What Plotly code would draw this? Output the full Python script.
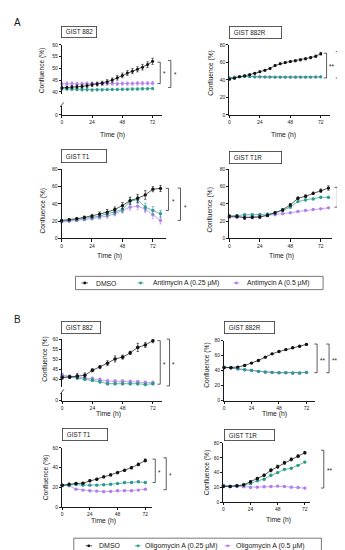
import plotly.graph_objects as go

W, H = 345, 550
FONT = "Liberation Sans, Arial, sans-serif"
INK = "#1a1a1a"
C_DMSO = "#111111"
C_LOW = "#2b9c8b"
C_HIGH = "#b07ef2"

# ---------------- data ----------------
hours_4h = [0, 4, 8, 12, 16, 20, 24, 28, 32, 36, 40, 44, 48, 52, 56, 60, 64, 68, 72]
hours_6h = [0, 6, 12, 18, 24, 30, 36, 42, 48, 54, 60, 66, 72]
hours_6h_78 = [0, 6, 12, 18, 24, 30, 36, 42, 48, 54, 60, 66, 72, 78]
x_ticks = [0, 24, 48, 72]
y_ticks_0_80 = [0, 20, 40, 60, 80]
y_ticks_0_60 = [0, 20, 40, 60]
y_ticks_break = [40, 45, 50, 55, 60]

# Panel A (Antimycin A)
a882_dmso = [41.7, 41.8, 42.0, 42.2, 42.3, 42.6, 43.0, 43.3, 43.7, 44.3, 45.0, 46.0, 47.0, 48.0, 48.8, 49.6, 50.5, 51.6, 53.0]
a882_dmso_err = [0.6, 0.6, 0.6, 0.7, 0.7, 0.7, 0.8, 0.8, 0.8, 0.9, 0.9, 1.0, 1.0, 1.0, 1.1, 1.1, 1.2, 1.2, 1.3]
a882_low = [41.3, 41.2, 41.1, 41.0, 40.9, 40.9, 40.8, 40.9, 40.9, 41.0, 41.0, 41.0, 41.1, 41.1, 41.2, 41.2, 41.3, 41.3, 41.4]
a882_low_err = [0.5, 0.5, 0.5, 0.5, 0.5, 0.5, 0.5, 0.5, 0.5, 0.5, 0.5, 0.5, 0.5, 0.5, 0.5, 0.5, 0.5, 0.5, 0.5]
a882_high = [43.4, 43.5, 43.5, 43.4, 43.4, 43.5, 43.5, 43.4, 43.5, 43.5, 43.5, 43.4, 43.5, 43.5, 43.5, 43.6, 43.6, 43.6, 43.7]
a882_high_err = [0.7, 0.7, 0.7, 0.7, 0.7, 0.7, 0.7, 0.7, 0.7, 0.7, 0.7, 0.7, 0.7, 0.7, 0.7, 0.7, 0.7, 0.7, 0.7]

a882r_dmso = [40.8, 42.0, 43.5, 44.8, 46.0, 47.5, 49.3, 51.0, 53.0, 56.5, 58.5, 59.8, 61.0, 62.0, 63.0, 64.2, 65.5, 67.0, 70.0]
a882r_dmso_err = [0.8, 0.8, 0.8, 0.8, 0.9, 0.9, 0.9, 1.0, 1.0, 1.0, 1.0, 1.1, 1.1, 1.1, 1.2, 1.2, 1.3, 1.4, 1.5]
a882r_low = [42.5, 43.2, 43.8, 44.0, 43.8, 43.6, 43.5, 43.4, 43.4, 43.3, 43.3, 43.3, 43.3, 43.3, 43.3, 43.3, 43.3, 43.4, 43.5]
a882r_low_err = [0.5, 0.5, 0.5, 0.5, 0.5, 0.5, 0.5, 0.5, 0.5, 0.5, 0.5, 0.5, 0.5, 0.5, 0.5, 0.5, 0.5, 0.5, 0.5]
a882r_high = [42.3, 43.0, 43.6, 43.8, 43.6, 43.4, 43.3, 43.2, 43.2, 43.1, 43.1, 43.1, 43.1, 43.1, 43.1, 43.1, 43.1, 43.2, 43.3]
a882r_high_err = [0.5, 0.5, 0.5, 0.5, 0.5, 0.5, 0.5, 0.5, 0.5, 0.5, 0.5, 0.5, 0.5, 0.5, 0.5, 0.5, 0.5, 0.5, 0.5]

at1_dmso = [20.9, 21.7, 22.9, 24.4, 25.9, 28.2, 30.5, 33.5, 38.0, 43.8, 46.5, 50.3, 57.0, 57.8]
at1_dmso_err = [1.0, 1.0, 1.2, 1.5, 2.0, 2.5, 3.0, 3.0, 3.5, 4.0, 4.5, 5.0, 3.0, 3.5]
at1_low = [19.8, 20.9, 21.7, 22.9, 24.4, 25.9, 28.2, 30.5, 33.5, 43.0, 45.0, 36.2, 32.4, 28.6]
at1_low_err = [1.0, 1.0, 1.2, 1.5, 2.0, 2.5, 3.0, 3.0, 3.5, 4.0, 4.0, 4.5, 4.5, 4.0]
at1_high = [19.0, 19.8, 20.6, 21.7, 22.9, 24.4, 25.9, 28.6, 32.4, 36.2, 37.3, 34.0, 27.4, 20.9]
at1_high_err = [1.0, 1.0, 1.0, 1.2, 1.5, 2.0, 2.5, 2.5, 3.0, 3.5, 4.0, 4.0, 4.5, 4.0]

at1r_dmso = [25.9, 25.5, 24.0, 24.4, 24.8, 26.7, 29.7, 33.1, 38.8, 46.5, 48.8, 52.2, 55.2, 58.3]
at1r_dmso_err = [1.5, 1.5, 2.0, 1.5, 1.5, 1.5, 1.5, 1.5, 1.5, 1.5, 1.5, 1.5, 2.0, 2.5]
at1r_low = [25.5, 26.7, 27.4, 27.4, 27.8, 28.2, 29.7, 32.4, 36.2, 42.7, 44.6, 45.7, 47.6, 47.6]
at1r_low_err = [1.0, 1.0, 1.0, 1.0, 1.0, 1.0, 1.0, 1.0, 1.0, 1.0, 1.0, 1.0, 1.2, 1.2]
at1r_high = [24.4, 24.4, 24.8, 25.1, 25.9, 26.7, 27.4, 28.6, 29.7, 31.2, 32.4, 33.5, 34.3, 35.4]
at1r_high_err = [0.8, 0.8, 0.8, 0.8, 0.8, 0.8, 0.8, 0.8, 0.8, 0.8, 0.8, 0.8, 0.8, 0.8]

# Panel B (Oligomycin A)
b882_dmso = [41.0, 41.3, 41.8, 42.1, 44.6, 46.2, 48.1, 50.2, 51.1, 53.2, 55.9, 57.1, 59.2]
b882_dmso_err = [0.8, 0.6, 1.2, 1.2, 0.8, 0.8, 1.2, 1.5, 1.0, 0.8, 2.0, 1.2, 1.0]
b882_low = [41.3, 41.3, 40.8, 40.2, 39.7, 38.9, 38.0, 38.0, 38.0, 38.0, 38.0, 37.6, 38.0]
b882_low_err = [0.6, 0.6, 0.6, 0.6, 0.6, 0.6, 0.6, 0.6, 0.6, 0.6, 0.6, 0.6, 0.6]
b882_high = [42.4, 41.6, 41.3, 40.8, 40.5, 40.0, 39.3, 39.2, 39.2, 39.0, 38.9, 38.5, 38.5]
b882_high_err = [0.8, 0.8, 0.8, 0.8, 0.8, 0.8, 0.8, 0.8, 0.8, 0.8, 0.8, 0.8, 0.8]

b882r_dmso = [44.0, 44.0, 44.8, 47.0, 50.1, 53.6, 58.0, 62.4, 65.5, 68.1, 70.5, 72.5, 75.0]
b882r_dmso_err = [0.5, 0.5, 0.5, 0.5, 0.6, 0.6, 0.6, 0.7, 0.7, 0.7, 0.8, 0.8, 0.9]
b882r_low = [44.8, 44.0, 42.6, 41.3, 40.4, 39.1, 38.2, 37.8, 37.4, 37.4, 36.9, 36.9, 37.8]
b882r_low_err = [0.5, 0.5, 0.5, 0.5, 0.5, 0.5, 0.5, 0.5, 0.5, 0.5, 0.5, 0.5, 0.5]
b882r_high = [44.5, 43.8, 42.4, 41.1, 40.2, 38.9, 38.0, 37.6, 37.2, 37.2, 36.7, 36.7, 37.6]
b882r_high_err = [0.5, 0.5, 0.5, 0.5, 0.5, 0.5, 0.5, 0.5, 0.5, 0.5, 0.5, 0.5, 0.5]

bt1_dmso = [22.3, 23.3, 24.0, 24.3, 26.7, 28.3, 30.7, 32.7, 35.0, 37.3, 40.0, 43.3, 47.3]
bt1_dmso_err = [0.8, 0.8, 0.8, 0.9, 1.0, 1.0, 1.0, 1.1, 1.2, 1.2, 1.3, 1.4, 1.5]
bt1_low = [21.7, 22.3, 23.0, 22.3, 22.3, 22.3, 22.7, 23.3, 24.0, 25.0, 25.0, 25.7, 25.0]
bt1_low_err = [0.6, 0.6, 0.6, 0.6, 0.6, 0.6, 0.6, 0.6, 0.6, 0.6, 0.6, 0.6, 0.6]
bt1_high = [22.3, 21.7, 18.3, 17.3, 16.7, 16.3, 15.7, 16.0, 16.7, 16.7, 16.7, 17.3, 18.3]
bt1_high_err = [0.6, 0.6, 0.6, 0.6, 0.6, 0.6, 0.6, 0.6, 0.6, 0.6, 0.6, 0.6, 0.6]

bt1r_dmso = [21.3, 21.3, 22.2, 23.6, 27.6, 32.0, 36.4, 43.1, 48.0, 53.3, 57.8, 62.2, 66.7]
bt1r_dmso_err = [1.0, 1.0, 1.0, 1.2, 1.2, 1.5, 1.5, 2.0, 2.0, 2.0, 2.0, 2.0, 1.5]
bt1r_low = [22.2, 21.3, 22.2, 23.1, 25.3, 28.9, 31.1, 36.4, 40.0, 44.4, 45.8, 49.8, 54.2]
bt1r_low_err = [1.0, 1.0, 1.0, 1.0, 1.0, 1.0, 1.0, 1.0, 1.0, 1.0, 1.0, 1.0, 1.0]
bt1r_high = [23.1, 21.3, 21.3, 20.9, 20.0, 20.4, 20.9, 21.3, 21.8, 21.3, 20.4, 20.0, 19.1]
bt1r_high_err = [1.0, 1.0, 1.0, 1.0, 1.0, 1.0, 1.0, 1.0, 1.0, 1.0, 1.0, 1.0, 1.0]

legend_a = ["DMSO", "Antimycin A (0.25 µM)", "Antimycin A (0.5 µM)"]
legend_b = ["DMSO", "Oligomycin A (0.25 µM)", "Oligomycin A (0.5 µM)"]

# ---------------- helpers ----------------
def fx(x):
    return x / W


def fy(y):
    return 1 - y / H


def axkey(kind, n):
    return f"{kind}axis" if n == 1 else f"{kind}axis{n}"


def axref(kind, n):
    return kind if n == 1 else f"{kind}{n}"


fig = go.Figure()
layout_axes = {}
shapes = []
annotations = []
next_id = [0]


def base_axis():
    return dict(showline=True, linecolor=INK, linewidth=0.8, ticks="outside", ticklen=2.2,
                tickwidth=0.8, tickcolor=INK, showgrid=False, zeroline=False,
                tickfont=dict(size=5, family=FONT, color=INK), fixedrange=True)


def add_series(xr, yr, hours, vals, errs, color, msize):
    fig.add_trace(go.Scatter(
        x=hours, y=vals, xaxis=xr, yaxis=yr, mode="lines+markers",
        line=dict(color=color, width=0.7),
        marker=dict(color=color, size=msize, line=dict(width=0)),
        error_y=dict(type="data", array=errs, color=color, thickness=0.6, width=1.2),
        cliponaxis=False, showlegend=False, hoverinfo="skip"))


def panel(xpx, ycfg, hours, series, title, tbox, ytitle_xy, xtitle_xy, msize=3.3):
    x0, x72, xend = xpx
    next_id[0] += 1
    i = next_id[0]
    xa = base_axis()
    xa.update(domain=[fx(x0), fx(xend)], range=[0, 72 * (xend - x0) / (x72 - x0)],
              tickvals=x_ticks)
    ya = base_axis()
    if ycfg[0] == "plain":
        _, top, bot, topval, ticks = ycfg
        ya.update(domain=[fy(bot), fy(top)], range=[0, topval], tickvals=ticks,
                  anchor=axref("x", i))
        xa.update(anchor=axref("y", i))
    else:
        _, top, p40, ub, lt, p0, ticks = ycfg
        scale = (p40 - top) / 20.0
        ya.update(domain=[fy(ub), fy(top)], range=[40 - (ub - p40) / scale, 60],
                  tickvals=ticks, anchor=axref("x", i))
        next_id[0] += 1
        j = next_id[0]
        yl = base_axis()
        yl.update(domain=[fy(p0), fy(lt)], range=[0, (p0 - lt) / scale], tickvals=[0],
                  anchor=axref("x", i))
        layout_axes[axkey("y", j)] = yl
        xa.update(anchor=axref("y", j))
        fig.add_trace(go.Scatter(x=[None], y=[None], xaxis=axref("x", i), yaxis=axref("y", j),
                                 showlegend=False, hoverinfo="skip"))
        # axis break mark
        shapes.append(dict(type="line", xref="paper", yref="paper",
                           x0=fx(x0 - 1.8), y0=fy(lt + 1.2), x1=fx(x0 + 1.8), y1=fy(lt - 3.5),
                           line=dict(color=INK, width=0.8)))
    layout_axes[axkey("x", i)] = xa
    layout_axes[axkey("y", i)] = ya
    for vals, errs, color in series:
        add_series(axref("x", i), axref("y", i), hours, vals, errs, color, msize)
    bx0, by0, bx1, by1 = tbox
    annotations.append(dict(x=fx(bx0), y=fy(by0), xref="paper", yref="paper", xanchor="left",
                            yanchor="top", text="\u00a0\u00a0" + title, showarrow=False,
                            align="left", valign="middle", width=bx1 - bx0 - 2.6,
                            height=by1 - by0 - 2.6, bordercolor="#333333", borderwidth=0.8,
                            borderpad=0.5, bgcolor="white",
                            font=dict(size=6.3, family=FONT, color=INK)))
    annotations.append(dict(x=fx(ytitle_xy[0]), y=fy(ytitle_xy[1]), xref="paper", yref="paper",
                            text="Confluence (%)", textangle=-90, showarrow=False,
                            xanchor="center", yanchor="middle",
                            font=dict(size=6.6, family=FONT, color=INK)))
    annotations.append(dict(x=fx(xtitle_xy[0]), y=fy(xtitle_xy[1]), xref="paper", yref="paper",
                            text="Time (h)", showarrow=False, xanchor="center", yanchor="middle",
                            font=dict(size=6.8, family=FONT, color=INK)))


def bracket(x, y1, y2, star, sx, sy, size=6.3):
    shapes.append(dict(type="path", xref="paper", yref="paper",
                       path=f"M {fx(x - 2.8)} {fy(y1)} L {fx(x)} {fy(y1)} L {fx(x)} {fy(y2)} L {fx(x - 2.8)} {fy(y2)}",
                       line=dict(color=INK, width=0.7)))
    annotations.append(dict(x=fx(sx), y=fy(sy), xref="paper", yref="paper", text=star,
                            showarrow=False, xanchor="center", yanchor="middle",
                            font=dict(size=size, family=FONT, color=INK)))


def legend(box, items, cy, size=6.8):
    bx0, by0, bx1, by1 = box
    shapes.append(dict(type="rect", xref="paper", yref="paper", x0=fx(bx0), y0=fy(by1),
                       x1=fx(bx1), y1=fy(by0), line=dict(color="#555555", width=0.8)))
    for label, color, mx, tx in items:
        shapes.append(dict(type="line", xref="paper", yref="paper", x0=fx(mx - 3.2), y0=fy(cy),
                           x1=fx(mx + 3.2), y1=fy(cy), line=dict(color=color, width=0.7)))
        shapes.append(dict(type="circle", xref="paper", yref="paper", x0=fx(mx - 1.4),
                           y0=fy(cy + 1.4), x1=fx(mx + 1.4), y1=fy(cy - 1.4),
                           fillcolor=color, line=dict(color=color, width=0)))
        annotations.append(dict(x=fx(tx), y=fy(cy), xref="paper", yref="paper", text=label,
                                showarrow=False, xanchor="left", yanchor="middle",
                                font=dict(size=size, family=FONT, color=INK)))


# ---------------- panel A ----------------
panel((53, 144, 153), ("broken", 34.3, 81.7, 83.5, 96, 105, y_ticks_break), hours_4h,
      [(a882_high, a882_high_err, C_HIGH), (a882_low, a882_low_err, C_LOW),
       (a882_dmso, a882_dmso_err, C_DMSO)],
      "GIST 882", (51.7, 15, 87.3, 26.7), (33, 60), (104, 125), msize=3.0)
bracket(151.7, 51.7, 73.3, "*", 155.5, 63.5)
bracket(162.3, 50, 77.3, "*", 166.7, 64)

panel((221, 312.7, 321.7), ("plain", 34.3, 105, 80, y_ticks_0_80), hours_4h,
      [(a882r_high, a882r_high_err, C_HIGH), (a882r_low, a882r_low_err, C_LOW),
       (a882r_dmso, a882r_dmso_err, C_DMSO)],
      "GIST 882R", (220.7, 15, 274, 28.3), (203, 63), (275, 125), msize=3.0)
bracket(318.5, 42.7, 67.7, "**", 323, 56.5)
bracket(330.5, 41, 67.7, "**", 335, 56.5)

panel((52.7, 144.3, 157), ("plain", 160, 230, 80, y_ticks_0_80), hours_6h_78,
      [(at1_high, at1_high_err, C_HIGH), (at1_low, at1_low_err, C_LOW),
       (at1_dmso, at1_dmso_err, C_DMSO)],
      "GIST T1", (51.7, 140, 97.7, 154.3), (35, 201.7), (101, 248))
bracket(160, 179.3, 201.7, "*", 165, 192.5)
bracket(172, 179, 211.7, "*", 177, 198.5)

panel((221, 312.7, 324.3), ("plain", 160, 230, 80, y_ticks_0_80), hours_6h_78,
      [(at1r_high, at1r_high_err, C_HIGH), (at1r_low, at1r_low_err, C_LOW),
       (at1r_dmso, at1r_dmso_err, C_DMSO)],
      "GIST T1R", (220.7, 141.7, 274, 154.3), (201.7, 201.7), (273, 248))
bracket(329.3, 178.3, 198.3, "*", 333.5, 188.5)

legend((66.7, 268.3, 315, 281.7),
       [(legend_a[0], C_DMSO, 76, 85), (legend_a[1], C_LOW, 132, 142),
        (legend_a[2], C_HIGH, 228, 236.5)], 275)

# ---------------- panel B ----------------
panel((53.3, 144.3, 153.3), ("broken", 331.7, 372.7, 380, 386, 394, y_ticks_break), hours_6h,
      [(b882_high, b882_high_err, C_HIGH), (b882_low, b882_low_err, C_LOW),
       (b882_dmso, b882_dmso_err, C_DMSO)],
      "GIST 882", (51.7, 313, 91.7, 325.7), (36.7, 352), (100, 407), msize=3.6)
bracket(151.7, 333.3, 377.3, "*", 155.5, 357)
bracket(161, 331.7, 379, "*", 165, 357)

panel((215.7, 298.3, 306.7), ("plain", 333.3, 394, 80, y_ticks_0_80), hours_6h,
      [(b882r_high, b882r_high_err, C_HIGH), (b882r_low, b882r_low_err, C_LOW),
       (b882r_dmso, b882r_dmso_err, C_DMSO)],
      "GIST 882R", (215.7, 313.3, 266.7, 326.7), (198.3, 358), (266.7, 407), msize=3.4)
bracket(309, 336.7, 365.7, "**", 314, 353)
bracket(321, 336.7, 365.7, "**", 326.5, 353)

panel((53.3, 136.7, 143.3), ("plain", 441.7, 501.7, 60, y_ticks_0_60), hours_6h,
      [(bt1_high, bt1_high_err, C_HIGH), (bt1_low, bt1_low_err, C_LOW),
       (bt1_dmso, bt1_dmso_err, C_DMSO)],
      "GIST T1", (53.3, 421.7, 99.3, 435), (36.7, 471.7), (95, 516), msize=3.4)
bracket(146.7, 453, 476.7, "*", 151, 467)
bracket(157.7, 451.7, 484, "*", 162, 470)

panel((215, 296.7, 301.7), ("plain", 436.7, 496.7, 80, y_ticks_0_80), hours_6h,
      [(bt1r_high, bt1r_high_err, C_HIGH), (bt1r_low, bt1r_low_err, C_LOW),
       (bt1r_dmso, bt1r_dmso_err, C_DMSO)],
      "GIST T1R", (216, 422.7, 267.3, 435), (198.3, 466.7), (270, 515), msize=3.4)
bracket(315.7, 444, 482.3, "**", 321.7, 465)

legend((65, 533, 313.3, 548),
       [(legend_b[0], C_DMSO, 80, 88), (legend_b[1], C_LOW, 129.3, 134),
        (legend_b[2], C_HIGH, 219.3, 225.5)], 540.7, size=7)

# panel letters
annotations.append(dict(x=fx(9), y=fy(12), xref="paper", yref="paper", text="A",
                        showarrow=False, xanchor="center", yanchor="middle",
                        font=dict(size=10, family=FONT, color=INK)))
annotations.append(dict(x=fx(9), y=fy(312), xref="paper", yref="paper", text="B",
                        showarrow=False, xanchor="center", yanchor="middle",
                        font=dict(size=10, family=FONT, color=INK)))

fig.update_layout(width=W, height=H, margin=dict(l=0, r=0, t=0, b=0),
                  paper_bgcolor="white", plot_bgcolor="white", showlegend=False,
                  shapes=shapes, annotations=annotations, **layout_axes)

fig.write_html("out.html", config={"displayModeBar": False})
